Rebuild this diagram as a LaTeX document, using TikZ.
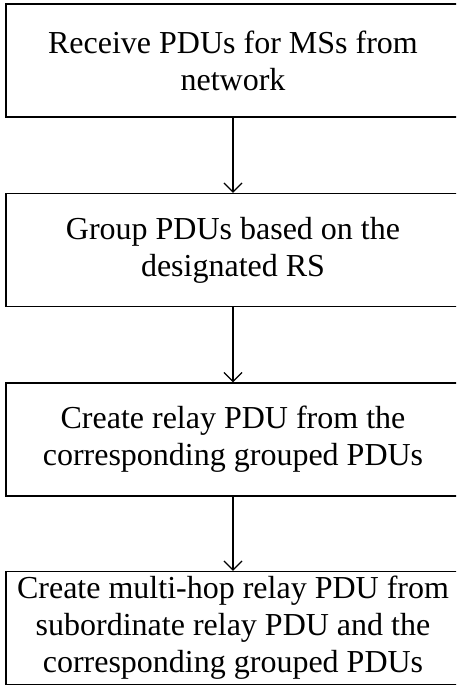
\documentclass[tikz,border=0pt]{standalone}
\usepackage{fontspec}
\setmainfont{Liberation Serif}
\usetikzlibrary{arrows.meta}
\newcommand\boxheight{113pt}
\newcommand\boxwidth{454pt}

\begin{document}
\begin{tikzpicture}[x=1pt, y=-1pt,
    box/.style={draw, line width=1.4pt, minimum width=\boxwidth, minimum height=\boxheight, inner sep=0pt, align=center, font=\fontsize{32}{37}\selectfont},
    flow/.style={-{Straight Barb[length=9pt, width=18pt]}, line width=1.2pt}]
        \clip (0,0) rectangle (456,685);
        \node[box] (receive) at (233, 60.5)  {Receive PDUs for MSs from\\ network};
        \node[box] (group)   at (233, 250)   {Group PDUs based on the\\ designated RS};
        \node[box] (relay)   at (233, 439.5) {Create relay PDU from the\\ corresponding grouped PDUs};
        \node[box] (multi)   at (233, 628)   {Create multi-hop relay PDU from\\ subordinate relay PDU and the\\ corresponding grouped PDUs};
        \draw[flow] (receive) -- (group);
        \draw[flow] (group) -- (relay);
        \draw[flow] (relay) -- (multi);
    \end{tikzpicture}
\end{document}
